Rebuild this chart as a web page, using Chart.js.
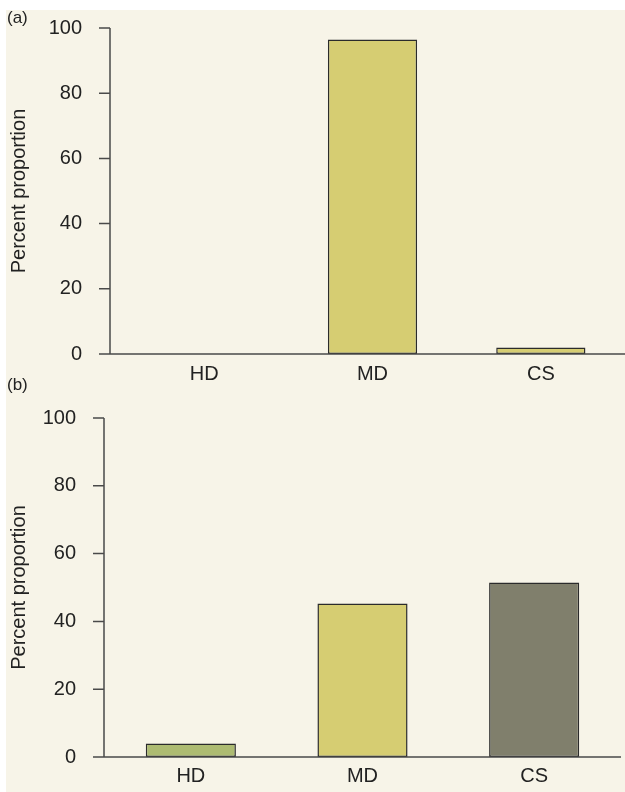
<!DOCTYPE html>
<html>
<head>
<meta charset="utf-8">
<script src="https://cdn.jsdelivr.net/npm/chart.js@4.4.1/dist/chart.umd.min.js"></script>
<style>
  html, body { margin: 0; padding: 0; background: #ffffff; }
  body { width: 625px; height: 792px; position: relative; overflow: hidden;
         font-family: "Liberation Sans", Arial, sans-serif; }
  #panel { position: absolute; left: 6px; top: 10px; width: 619px; height: 782px; background: #F7F4E8; }
  .wrap { position: absolute; left: 0; width: 625px; }
  .tag { position: absolute; left: 7px; font-size: 17px; color: #222; }
</style>
</head>
<body>
<div id="panel"></div>
<div class="wrap" style="top:0;height:400px;"><canvas id="chartA"></canvas></div>
<div class="wrap" style="top:400px;height:392px;"><canvas id="chartB"></canvas></div>
<div class="tag" style="top:8px;">(a)</div>
<div class="tag" style="top:375px;">(b)</div>
<script>
// Categories and percentages for the two panels
const categories = ["HD", "MD", "CS"];
const valuesA = [0, 96.5, 2];
const valuesB = [4, 45.3, 51.5];
const colorsA = ["#ADBB72", "#D6CD72", "#D6CD72"];
const colorsB = ["#ADBB72", "#D6CD72", "#807F6C"];
const yTicks = [0, 20, 40, 60, 80, 100];
const yTitle = "Percent proportion";

const FONT = "'Liberation Sans', Arial, sans-serif";
const TEXT = "#222222";
const AXIS = "#4a4a4a";

// Draws the left axis line with its tick marks and the baseline across the panel
const axisLines = {
  id: "axisLines",
  afterDatasetsDraw(chart, args, opts) {
    const ctx = chart.ctx;
    const y = chart.scales.y;
    const ax = chart.chartArea.left - opts.gap;
    const top = y.getPixelForValue(100);
    const base = y.getPixelForValue(0);
    ctx.save();
    ctx.strokeStyle = AXIS;
    ctx.lineWidth = 1.5;
    ctx.beginPath();
    ctx.moveTo(ax, top);
    ctx.lineTo(ax, base);
    yTicks.forEach(v => {
      const py = y.getPixelForValue(v);
      ctx.moveTo(ax - 11, py);
      ctx.lineTo(ax, py);
    });
    ctx.moveTo(ax - 11, base);
    ctx.lineTo(opts.end, base);
    ctx.stroke();
    ctx.restore();
  }
};

function makeChart(id, values, colors, cfg) {
  return new Chart(document.getElementById(id), {
    type: "bar",
    data: {
      labels: categories,
      datasets: [{
        data: values,
        backgroundColor: colors,
        borderColor: "#2b2b2b",
        borderWidth: 1.5,
        borderSkipped: false,
        barPercentage: cfg.barPct,
        categoryPercentage: 1
      }]
    },
    options: {
      responsive: true,
      maintainAspectRatio: false,
      animation: false,
      events: [],
      layout: { autoPadding: false,
                padding: { top: cfg.padTop, right: cfg.padRight, left: 0, bottom: 0 } },
      plugins: {
        legend: { display: false },
        tooltip: { enabled: false },
        axisLines: { gap: cfg.gap, end: cfg.end }
      },
      scales: {
        x: {
          grid: { display: false, drawTicks: false },
          border: { display: false },
          ticks: { color: TEXT, font: { family: FONT, size: 20 }, padding: cfg.xPad },
          afterFit(s) { s.height = cfg.xHeight; s.paddingLeft = 0; s.paddingRight = 0; }
        },
        y: {
          min: 0, max: 100,
          afterBuildTicks(s) { s.ticks = yTicks.map(v => ({ value: v })); },
          grid: { display: false, drawTicks: false },
          border: { display: false },
          ticks: { color: TEXT, font: { family: FONT, size: 20 }, padding: cfg.yPad },
          title: { display: true, text: yTitle, color: TEXT,
                   font: { family: FONT, size: 20 }, padding: { top: 7, bottom: 0 } },
          afterFit(s) { s.width = cfg.yWidth; s.paddingTop = 0; s.paddingBottom = 0; }
        }
      }
    },
    plugins: [axisLines]
  });
}

makeChart("chartA", valuesA, colorsA, {
  barPct: 0.53, padTop: 28, padRight: 0, xHeight: 46, xPad: 8,
  yWidth: 120, yPad: 38, gap: 10, end: 625
});
makeChart("chartB", valuesB, colorsB, {
  barPct: 0.525, padTop: 18, padRight: 5, xHeight: 35, xPad: 7,
  yWidth: 105, yPad: 29, gap: 1, end: 621
});
</script>
</body>
</html>
